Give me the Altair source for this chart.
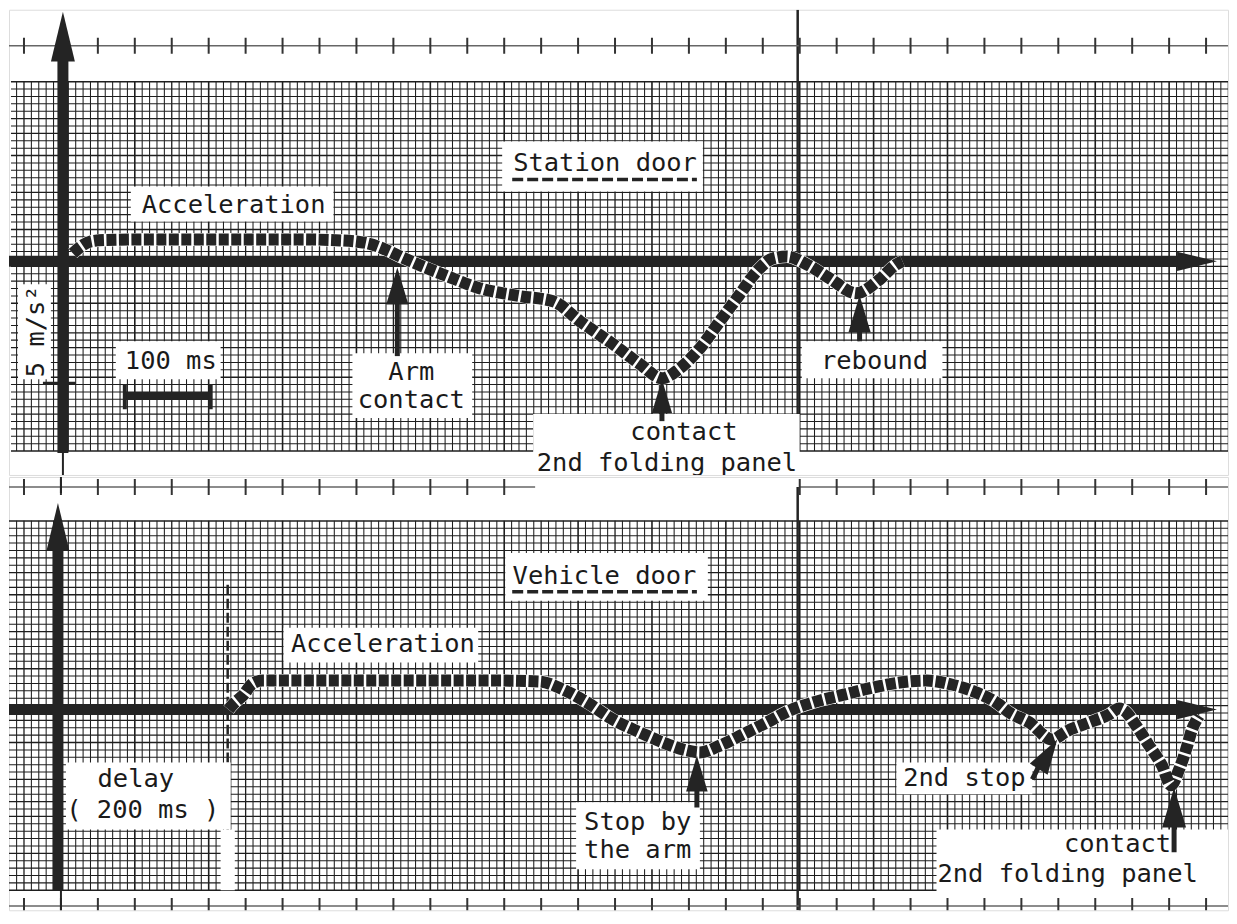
import altair as alt
import numpy as np
import pandas as pd

# ---------------- traces read from the recorder paper (time in ms, acceleration in m/s²) -------------
STATION_T = [11.6, 20.9, 32.6, 50.0, 102.3, 160.5, 218.6, 276.7, 323.3, 354.7, 377.9, 393.0,
             408.1, 447.7, 486.0, 532.6, 570.9, 602.3, 640.7, 672.1, 697.7, 718.6, 741.9, 765.1,
             788.4, 808.1, 826.7, 843.0, 866.3, 893.0, 924.4, 951.2, 970.9, 977.9]
STATION_A = [0.33, 0.61, 0.82, 0.88, 0.90, 0.90, 0.90, 0.90, 0.86, 0.74, 0.45, 0.20,
             -0.04, -0.61, -1.11, -1.43, -1.64, -2.46, -3.40, -4.22, -4.80, -4.39, -3.57, -2.46,
             -1.35, -0.41, 0.12, 0.20, -0.12, -0.70, -1.31, -0.74, -0.12, 0.0]

VEHICLE_T = [198.8, 203.5, 216.3, 226.7, 238.4, 282.6, 340.7, 398.8, 457.0, 515.1,
             561.6, 588.4, 616.3, 646.5, 677.9, 704.7, 732.6, 747.7, 770.9, 797.7,
             825.6, 852.3, 879.1, 910.5, 948.8, 980.2, 1011.6, 1041.9, 1069.8, 1093.0,
             1108.1, 1131.4, 1158.1, 1174.4, 1201.2, 1224.4, 1236.0, 1241.9, 1255.8, 1270.9,
             1286.0, 1296.5, 1305.8, 1314.0, 1320.9, 1329.1]
VEHICLE_A = [0.0, 0.20, 0.61, 1.07, 1.19, 1.19, 1.19, 1.19, 1.19, 1.19,
             1.15, 0.82, 0.29, -0.41, -0.94, -1.35, -1.68, -1.76, -1.48, -1.02,
             -0.53, -0.04, 0.29, 0.57, 0.90, 1.11, 1.19, 1.02, 0.70, 0.29,
             -0.12, -0.53, -1.23, -0.90, -0.53, -0.20, 0.04, -0.04, -0.66, -1.48,
             -2.30, -3.11, -2.46, -1.64, -0.82, -0.25]

# ---------------- labels ----------------
TOP_LABELS = ["Acceleration", "Station door", "Arm", "contact", "contact", "2nd folding panel", "rebound", "100 ms"]
TOP_LABEL_T = [198.8, 631.4, 405.8, 405.8, 723.3, 703.5, 945.3, 125.6]
TOP_LABEL_A = [2.30, 4.02, -4.54, -5.70, -7.01, -8.28, -4.10, -4.10]
UNIT_LABEL = ["5 m/s²"]
UNIT_LABEL_T = [-31.4]
UNIT_LABEL_A = [-2.87]

BOT_LABELS_C = ["Vehicle door", "Acceleration", "2nd stop", "delay", "( 200 ms )"]
BOT_LABELS_C_T = [636.6, 378.5, 1055.8, 90.7, 98.8]
BOT_LABELS_C_A = [5.49, 2.71, -2.79, -2.87, -4.14]
BOT_LABELS_L = ["Stop by", "the arm", "2nd folding panel"]
BOT_LABELS_L_T = [612.8, 612.8, 1024.4]
BOT_LABELS_L_A = [-4.63, -5.78, -6.76]
BOT_LABELS_R = ["contact"]
BOT_LABELS_R_T = [1296.5]
BOT_LABELS_R_A = [-5.53]

# ---------------- styling / layout ----------------
DARK = "#242424"
GRID = "#1e1e1e"
FONT = "DejaVu Sans Mono"
FS = 25.5
W = 1221
TOP_H, BOT_H = 466, 434
TOP_X, TOP_Y = [-62.8, 1357.0], [-8.77, 10.33]
BOT_X, BOT_Y = [-57.0, 1362.8], [-8.24, 9.55]
MINOR_MS, MINOR_A = 8.605, 0.3033
HEAD_AXIS = "M0,0L0.24,1L-0.24,1Z"
HEAD_NOTE = "M0,0L0.3,1L-0.3,1Z"


def sc(dom):
    return alt.Scale(domain=dom, nice=False, zero=False)


def seg_layer(df, xs, ys, color=DARK, dash=None, cap="butt"):
    kw = dict(clip=True, color=color, strokeCap=cap)
    if dash:
        kw["strokeDash"] = dash
    return alt.Chart(df).mark_rule(**kw).encode(
        x=alt.X("t1:Q", scale=xs, axis=None), x2="t2:Q",
        y=alt.Y("a1:Q", scale=ys, axis=None), y2="a2:Q",
        strokeWidth=alt.StrokeWidth("w:Q", scale=None, legend=None))


def segs(rows):
    return pd.DataFrame(rows, columns=["t1", "a1", "t2", "a2", "w"])


def rect_layer(rows, xs, ys):
    df = pd.DataFrame(rows, columns=["t1", "t2", "a1", "a2"])
    return alt.Chart(df).mark_rect(clip=True, color="white").encode(
        x=alt.X("t1:Q", scale=xs, axis=None), x2="t2:Q",
        y=alt.Y("a1:Q", scale=ys, axis=None), y2="a2:Q")


def text_layer(labels, ts, as_, xs, ys, align="center", angle=0):
    df = pd.DataFrame({"label": labels, "t": ts, "a": as_})
    return alt.Chart(df).mark_text(clip=True, font=FONT, fontSize=FS, align=align, baseline="middle",
                                   color="#1a1a1a", angle=angle).encode(
        x=alt.X("t:Q", scale=xs, axis=None), y=alt.Y("a:Q", scale=ys, axis=None), text="label:N")


def head_layer(rows, xs, ys, shape):
    df = pd.DataFrame(rows, columns=["t", "a", "s", "ang"])
    return alt.Chart(df).mark_point(clip=True, shape=shape, filled=True, opacity=1, color=DARK,
                                    strokeWidth=0).encode(
        x=alt.X("t:Q", scale=xs, axis=None), y=alt.Y("a:Q", scale=ys, axis=None),
        size=alt.Size("s:Q", scale=None, legend=None),
        angle=alt.Angle("ang:Q", scale=None, legend=None))


def trace_layer(t, a, xs, ys):
    df = pd.DataFrame({"t": t, "a": a})
    base = alt.Chart(df).encode(x=alt.X("t:Q", scale=xs, axis=None),
                                y=alt.Y("a:Q", scale=ys, axis=None), order="t:Q")
    under = base.mark_line(clip=True, interpolate="monotone", color="white", strokeWidth=13, strokeCap="butt")
    over = base.mark_line(clip=True, interpolate="monotone", color=DARK, strokeWidth=12,
                          strokeDash=[10, 2.5], strokeCap="butt")
    return under + over


def grid_df(v_first, h_first, t_ext, a_ext):
    i = np.arange(165)
    vt = v_first + MINOR_MS * i
    vw = np.where((i - 6) % 10 == 0, 1.6, np.where((i - 1) % 5 == 0, 1.3, 1.05))
    vdf = pd.DataFrame({"t1": vt, "t2": vt, "a1": a_ext[0], "a2": a_ext[1], "w": vw})
    j = np.arange(51)
    ha = h_first - MINOR_A * j
    hw = np.where(j % 10 == 0, 1.45, np.where(j % 5 == 0, 1.25, 1.05))
    hdf = pd.DataFrame({"t1": t_ext[0], "t2": t_ext[1], "a1": ha, "a2": ha, "w": hw})
    return pd.concat([vdf, hdf], ignore_index=True)


def tick_df(first, ms, row, half=0.33):
    tt = first + 5 * MINOR_MS * np.asarray(ms)
    return pd.DataFrame({"t1": tt, "t2": tt, "a1": row - half, "a2": row + half, "w": 2.0})


# ======================= TOP PANEL : Station door =======================
xs1, ys1 = sc(TOP_X), sc(TOP_Y)
top_layers = [
    seg_layer(grid_df(-53.95, 7.377, [-60.5, 1360.5], [-7.79, 7.38]), xs1, ys1, color=GRID),
    seg_layer(segs([[855.8, -8.77, 855.8, 10.33, 2.5]]), xs1, ys1),
    seg_layer(segs([[-62.8, 8.85, 1360.5, 8.85, 1.5]]), xs1, ys1, color="#666666"),
    seg_layer(tick_df(-45.35, range(33), 8.85), xs1, ys1, color="#333333"),
    rect_layer([[-52.3, -14.0, -0.94, -4.84],
                [61.6, 183.7, -3.28, -4.84],
                [79.1, 315.1, 3.07, 1.64],
                [511.6, 745.3, 4.92, 2.87],
                [337.2, 476.7, -3.77, -6.43],
                [547.7, 858.1, -6.27, -8.77],
                [860.5, 1024.4, -3.28, -4.80]], xs1, ys1),
    seg_layer(segs([[0, -7.87, 0, 8.81, 11],
                    [-62.8, 0, 1311.6, 0, 11],
                    [0, -7.87, 0, -8.77, 2]]), xs1, ys1),
    trace_layer(STATION_T, STATION_A, xs1, ys1),
    seg_layer(segs([[389.5, -3.89, 389.5, -1.43, 5],
                    [697.7, -6.56, 697.7, -5.94, 5],
                    [927.9, -3.28, 927.9, -2.66, 5],
                    [-23.3, -5.0, 15.1, -5.0, 3],
                    [72.1, -5.53, 172.1, -5.53, 8],
                    [72.1, -5.04, 72.1, -6.07, 4],
                    [172.1, -5.04, 172.1, -6.07, 4]]), xs1, ys1),
    seg_layer(segs([[523.3, 3.36, 738.4, 3.36, 3.5]]), xs1, ys1, dash=[11, 4]),
    head_layer([[0, 10.25, 10000, 0], [1344.2, 0, 6400, 90]], xs1, ys1, HEAD_AXIS),
    head_layer([[389.5, -0.25, 5476, 0], [697.7, -4.84, 4624, 0], [927.9, -1.39, 5476, 0]], xs1, ys1, HEAD_NOTE),
    text_layer(TOP_LABELS, TOP_LABEL_T, TOP_LABEL_A, xs1, ys1),
    text_layer(UNIT_LABEL, UNIT_LABEL_T, UNIT_LABEL_A, xs1, ys1, angle=270),
]
top = alt.layer(*top_layers).properties(width=W, height=TOP_H)

# ======================= BOTTOM PANEL : Vehicle door =======================
xs2, ys2 = sc(BOT_X), sc(BOT_Y)
bot_layers = [
    seg_layer(grid_df(-48.14, 7.746, [-57.0, 1366.3], [-7.42, 7.75]), xs2, ys2, color=GRID),
    seg_layer(segs([[861.6, -8.24, 861.6, 9.14, 2.5]]), xs2, ys2),
    seg_layer(segs([[-57.0, 9.14, 555.8, 9.14, 1.5],
                    [864.0, 9.14, 1366.3, 9.14, 1.5],
                    [-57.0, -8.07, 1366.3, -8.07, 1.5]]), xs2, ys2, color="#666666"),
    seg_layer(pd.concat([tick_df(-39.53, list(range(14)) + list(range(21, 33)), 9.14),
                         tick_df(-39.53, range(33), -8.07)]), xs2, ys2, color="#333333"),
    seg_layer(segs([[197.7, 5.12, 197.7, -7.42, 2.5]]), xs2, ys2, dash=[10, 4]),
    rect_layer([[521.0, 757.0, 6.43, 4.47],
                [262.8, 489.5, 3.36, 1.93],
                [603.5, 747.7, -3.81, -6.56],
                [976.7, 1134.9, -2.17, -3.48],
                [1023.3, 1372.0, -4.92, -7.6],
                [9.3, 201.2, -2.17, -4.92],
                [189.5, 206.0, -4.92, -7.42]], xs2, ys2),
    seg_layer(segs([[0, -7.42, 0, 7.25, 11],
                    [-57.0, 0, 1317.4, 0, 11],
                    [3.5, -7.42, 3.5, -8.24, 2],
                    [3.5, 8.89, 3.5, 9.55, 2]]), xs2, ys2),
    trace_layer(VEHICLE_T, VEHICLE_A, xs2, ys2),
    seg_layer(segs([[744.2, -4.02, 744.2, -2.99, 5],
                    [1134.9, -2.87, 1144.2, -2.21, 5],
                    [1300.0, -5.86, 1300.0, -4.43, 5]]), xs2, ys2),
    seg_layer(segs([[529.1, 4.84, 744.2, 4.84, 3.5]]), xs2, ys2, dash=[11, 4]),
    head_layer([[0, 8.48, 8836, 0], [1350.0, 0, 6400, 90]], xs2, ys2, HEAD_AXIS),
    head_layer([[744.2, -1.89, 5184, 0], [1163.9, -1.23, 4900, 32], [1300.0, -3.20, 6400, 0]], xs2, ys2, HEAD_NOTE),
    text_layer(BOT_LABELS_C, BOT_LABELS_C_T, BOT_LABELS_C_A, xs2, ys2),
    text_layer(BOT_LABELS_L, BOT_LABELS_L_T, BOT_LABELS_L_A, xs2, ys2, align="left"),
    text_layer(BOT_LABELS_R, BOT_LABELS_R_T, BOT_LABELS_R_A, xs2, ys2, align="right"),
]
bottom = alt.layer(*bot_layers).properties(width=W, height=BOT_H)

chart = (alt.vconcat(top, bottom, spacing=0)
         .resolve_scale(x="independent", y="independent")
         .properties(padding=0)
         .configure_view(strokeWidth=0, stroke="transparent")
         .configure(background="white"))

chart.save("out.html", embed_options={"renderer": "svg", "actions": False})
